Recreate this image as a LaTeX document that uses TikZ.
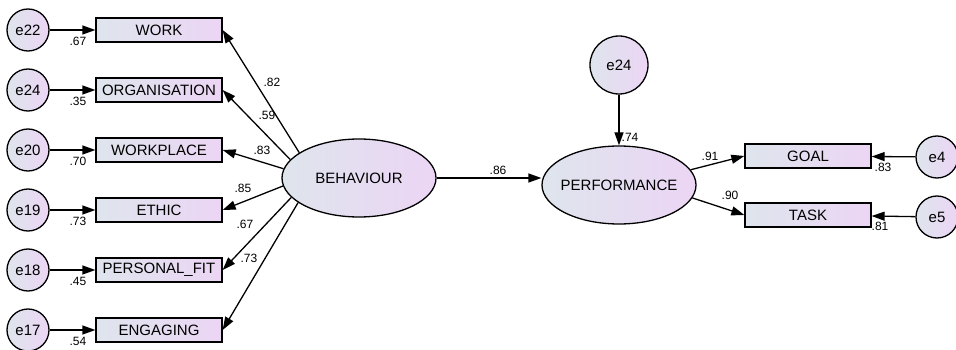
\documentclass[tikz,border=0pt]{standalone}
\usepackage{fontspec}
\setmainfont{Liberation Sans}
\usetikzlibrary{arrows.meta,shapes.geometric}

\definecolor{shadeL}{RGB}{222,229,237}
\definecolor{shadeR}{RGB}{236,213,244}

\tikzset{every picture/.style={line width=1.3pt},
  >={Triangle[length=13pt,width=9pt]},
  filled/.style={draw,inner sep=0pt,left color=shadeL,right color=shadeR,font=\fontsize{15}{17}\selectfont},
  obs/.style={filled,rectangle,minimum width=126pt,minimum height=24pt},
  err/.style={filled,circle,minimum size=42pt},
  lat/.style={filled,ellipse,inner xsep=-10pt,minimum width=154pt,minimum height=78pt},
  coef/.style={font=\fontsize{12}{13}\selectfont,inner sep=1pt}}

\begin{document}
\begin{tikzpicture}[x=1pt,y=-1pt]
        \useasboundingbox (0,0) rectangle (956,350);
        % indicators of BEHAVIOUR
        \foreach \e/\v/\t/\y/\r in {e22/work/WORK/30/.67, e24/org/ORGANISATION/90/.35,
            e20/place/WORKPLACE/150/.70, e19/ethic/ETHIC/210/.73,
            e18/fit/PERSONAL\_FIT/270/.45, e17/eng/ENGAGING/330/.54}{
            \node[err] (\v e) at (28,\y) {\e};
            \node[obs] (\v) at (159,\y) {\t};
            \draw[->] (\v e) -- (\v);
            \node[coef] (\v r) at (78,\y+11) {\r};
        }
        \node[lat] (beh) at (359,178) {BEHAVIOUR};
        \node[lat] (perf) at (619,185) {PERFORMANCE};
        \node[err,minimum size=58pt] (res) at (619,65) {e24};
        \node[obs] (goal) at (808,156) {GOAL};
        \node[obs] (task) at (808,215) {TASK};
        \node[err] (e4) at (937,157) {e4};
        \node[err] (e5) at (937,217) {e5};
        \foreach \v/\a in {work/157,org/165,place/173.5,ethic/186.5,fit/196.5,eng/202.5}
            \draw[->] (beh.\a) -- (\v.east);
        \draw[->] (beh.east) -- (beh.east -| perf.west);
        \draw[->] (res) -- (perf);
        \draw[->] (perf.12) -- (goal.west);
        \draw[->] (perf.-10) -- (task.west);
        \draw[->] (e4) -- (goal);
        \draw[->] (e5) -- (task);
        % loadings
        \node[coef] (lwork) at (272,82) {.82};
        \node[coef] (lorg) at (267,115) {.59};
        \node[coef] (lplace) at (262,150) {.83};
        \node[coef] (lethic) at (243,188) {.85};
        \node[coef] (lfit) at (245,224) {.67};
        \node[coef] (leng) at (249,258) {.73};
        \node[coef] (lbeh) at (498,170) {.86};
        \node[coef] (lres) at (630,137) {.74};
        \node[coef] (lgoal) at (710,156) {.91};
        \node[coef] (ltask) at (730,195) {.90};
        \node[coef] (rgoal) at (883,167) {.83};
        \node[coef] (rtask) at (880,226) {.81};
    \end{tikzpicture}
\end{document}
